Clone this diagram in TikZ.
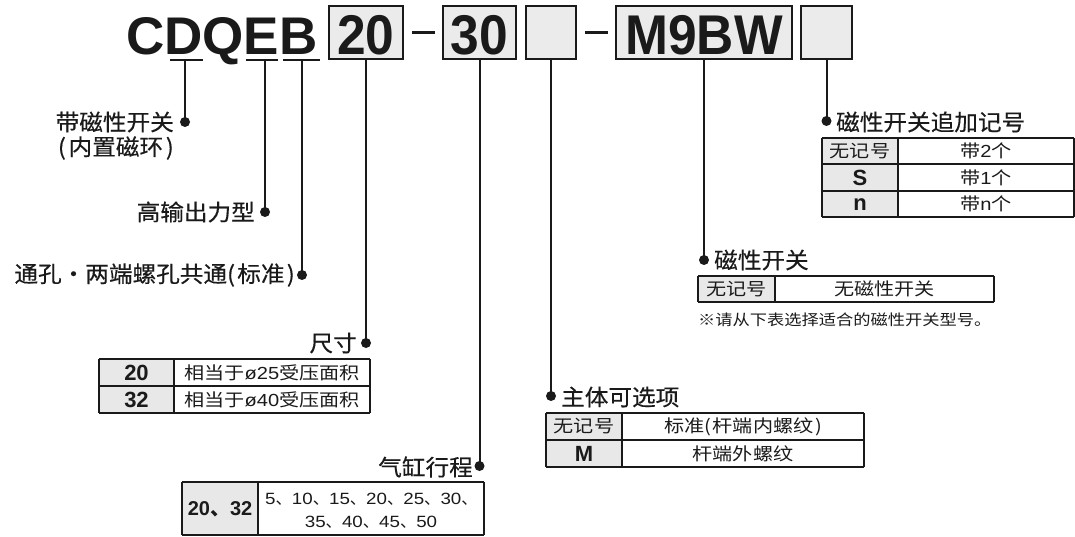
\documentclass[tikz,border=0pt]{standalone}
\usepackage{fontspec}
\setmainfont{Liberation Sans}
\newfontfamily\cjk{Noto Sans CJK SC}
\newfontfamily\lcjk[FakeStretch=1.05,FakeBold=0.4]{Noto Sans CJK SC}
\newfontfamily\tcjk[FakeStretch=1.15]{Noto Sans CJK SC}
\newfontfamily\tlat[FakeStretch=1.15]{Liberation Sans}
\newfontfamily\hdr[FakeStretch=0.92]{Liberation Sans}
\newcommand\tl[1]{{\tlat #1}}
\newcommand\dn{{\cjk 、}}
\definecolor{boxgray}{HTML}{EBEBEB}
\definecolor{cellgray}{HTML}{E8E8E8}
\definecolor{ink}{HTML}{1A1A1A}
\tikzset{
  lab/.style={font=\lcjk\fontsize{22.5}{26}\selectfont, inner sep=0, text=ink},
  tab/.style={font=\tcjk\fontsize{17.5}{20}\selectfont, inner sep=0, text=ink},
  tabnum/.style={font=\tlat\fontsize{16.3}{19}\selectfont, inner sep=0, text=ink},
  tabb/.style={font=\bfseries\fontsize{22}{24}\selectfont, inner sep=0, text=ink},
  notetxt/.style={font=\tcjk\fontsize{15}{17}\selectfont, inner sep=0, text=ink},
  hbox/.style={draw=ink, line width=2.2pt, fill=boxgray, inner sep=0},
  hdrtxt/.style={font=\hdr\bfseries\fontsize{56}{60}\selectfont, inner sep=0, text=ink},
  mainhdr/.style={font=\bfseries\fontsize{53}{58}\selectfont, inner sep=0, text=ink},
  dot/.style={circle, fill=ink, inner sep=0, minimum size=10pt},
  conn/.style={draw=ink, line width=2pt},
  uline/.style={draw=ink, line width=2pt},
  dashline/.style={draw=ink, line width=3pt},
  tline/.style={draw=ink, line width=1.1pt},
  ttop/.style={draw=ink, line width=2.2pt},
}
\begin{document}
\begin{tikzpicture}[x=1pt, y=-1pt]
\useasboundingbox (0,0) rectangle (1075,537);

% ---------- header ----------
\node[mainhdr, anchor=base west] (cdqeb) at (126,55) {CDQEB};
\node[hbox, minimum width=74pt, minimum height=53pt] (b20) at (366,32.5) {};
\node[hdrtxt, anchor=base] (t20) at (366,55) {20};
\node[hbox, minimum width=73pt, minimum height=53pt] (b30) at (479.5,32.5) {};
\node[hdrtxt, anchor=base] (t30) at (479.5,55) {30};
\node[hbox, minimum width=50pt, minimum height=53pt] (be1) at (551,32.5) {};
\node[hbox, minimum width=176pt, minimum height=53pt] (bm9) at (704,32.5) {};
\node[hdrtxt, anchor=base] (tm9) at (704,55) {M9BW};
\node[hbox, minimum width=51pt, minimum height=53pt] (be2) at (826.5,32.5) {};
\draw[dashline] (412,33) -- (435,33);
\draw[dashline] (585,33) -- (608,33);

% underlines
\draw[uline] (170,60) -- (203,60);
\draw[uline] (246,60) -- (278,60);
\draw[uline] (283,60) -- (320,60);
\coordinate (uD) at (185,60);
\coordinate (uE) at (265,60);
\coordinate (uB) at (302,60);

% dots
\node[dot] (pD) at (185,122) {};
\node[dot] (pE) at (265,212) {};
\node[dot] (pB) at (302,275) {};
\node[dot] (p20) at (366,343) {};
\node[dot] (p30) at (479.5,466) {};
\node[dot] (pe1) at (551,396) {};
\node[dot] (pm9) at (704,260) {};
\node[dot] (pe2) at (826.5,121) {};

% connectors
\draw[conn] (uD) -- (pD.center);
\draw[conn] (uE) -- (pE.center);
\draw[conn] (uB) -- (pB.center);
\draw[conn] (b20.south) -- (p20.center);
\draw[conn] (b30.south) -- (p30.center);
\draw[conn] (be1.south) -- (pe1.center);
\draw[conn] (bm9.south) -- (pm9.center);
\draw[conn] (be2.south) -- (pe2.center);

% ---------- labels ----------
\node[lab, anchor=east] (lD1) at (174,122) {带磁性开关};
\node[lab, anchor=east] (lD2) at (174,148) {(\kern0.12em 内置磁环\kern0.12em)};
\node[lab, anchor=east] (lE) at (255,212) {高输出力型};
\node[lab, anchor=east] (lB) at (295,275) {通孔・两端螺孔共通(\kern0.1em 标准\kern0.1em)};
\node[lab, anchor=east] (l20) at (357,343) {尺寸};
\node[lab, anchor=east] (l30) at (473,467) {气缸行程};
\node[lab, anchor=west] (le1) at (561,397) {主体可选项};
\node[lab, anchor=west] (lm9) at (714,260) {磁性开关};
\node[lab, anchor=west] (le2) at (836,122) {磁性开关追加记号};

% ---------- table: size ----------
\fill[cellgray] (99,359) rectangle (174,413);
\draw[tline] (99,359) -- (99,413) (370,359) -- (370,413) (174,359) -- (174,413)
             (99,386) -- (370,386) (99,413) -- (370,413);
\draw[ttop] (99,359) -- (370,359);
\node[tabb] (s1a) at (136.5,373) {20};
\node[tab] (s1b) at (272,372.5) {相当于\tl{ø25}受压面积};
\node[tabb] (s2a) at (136.5,400) {32};
\node[tab] (s2b) at (272,399.5) {相当于\tl{ø40}受压面积};

% ---------- table: stroke ----------
\fill[cellgray] (182,482) rectangle (258,535);
\draw[tline] (182,482) -- (182,535) (484,482) -- (484,535) (258,482) -- (258,535)
             (182,535) -- (484,535);
\draw[ttop] (182,482) -- (484,482);
\node[tabb, font=\bfseries\fontsize{20}{22}\selectfont] (k1a) at (220,509) {20{\cjk 、}32};
\node[tabnum, anchor=west] (k1b) at (265,499) {5\dn 10\dn 15\dn 20\dn 25\dn 30\dn};
\node[tabnum] (k1c) at (371,522) {35\dn 40\dn 45\dn 50};

% ---------- table: body option ----------
\fill[cellgray] (546,413) rectangle (622,467);
\draw[tline] (546,413) -- (546,467) (864,413) -- (864,467) (622,413) -- (622,467)
             (546,440) -- (864,440) (546,467) -- (864,467);
\draw[ttop] (546,413) -- (864,413);
\node[tab] (o1a) at (584,426.5) {无记号};
\node[tab] (o1b) at (743,426.5) {标准(\kern0.1em 杆端内螺纹\kern0.1em)};
\node[tabb] (o2a) at (584,454) {M};
\node[tab] (o2b) at (743,453.5) {杆端外螺纹};

% ---------- table: switch ----------
\fill[cellgray] (698,276) rectangle (775,302);
\draw[tline] (698,276) -- (698,302) (994,276) -- (994,302) (775,276) -- (775,302)
             (698,302) -- (994,302);
\draw[ttop] (698,276) -- (994,276);
\node[tab] (w1a) at (736.5,289) {无记号};
\node[tab] (w1b) at (884.5,289) {无磁性开关};
\node[notetxt, anchor=west] (note) at (698,320) {※请从下表选择适合的磁性开关型号。};

% ---------- table: switch count ----------
\fill[cellgray] (822,138) rectangle (898,217);
\draw[tline] (822,138) -- (822,217) (1074,138) -- (1074,217) (898,138) -- (898,217)
             (822,164) -- (1074,164) (822,191) -- (1074,191) (822,217) -- (1074,217);
\draw[ttop] (822,138) -- (1074,138);
\node[tab] (c1a) at (860,151) {无记号};
\node[tab] (c1b) at (986,151) {带\tl{2}个};
\node[tabb] (c2a) at (860,178) {S};
\node[tab] (c2b) at (986,177.5) {带\tl{1}个};
\node[tabb] (c3a) at (860,205) {n};
\node[tab] (c3b) at (986,204) {带\tl{n}个};
\end{tikzpicture}
\end{document}
